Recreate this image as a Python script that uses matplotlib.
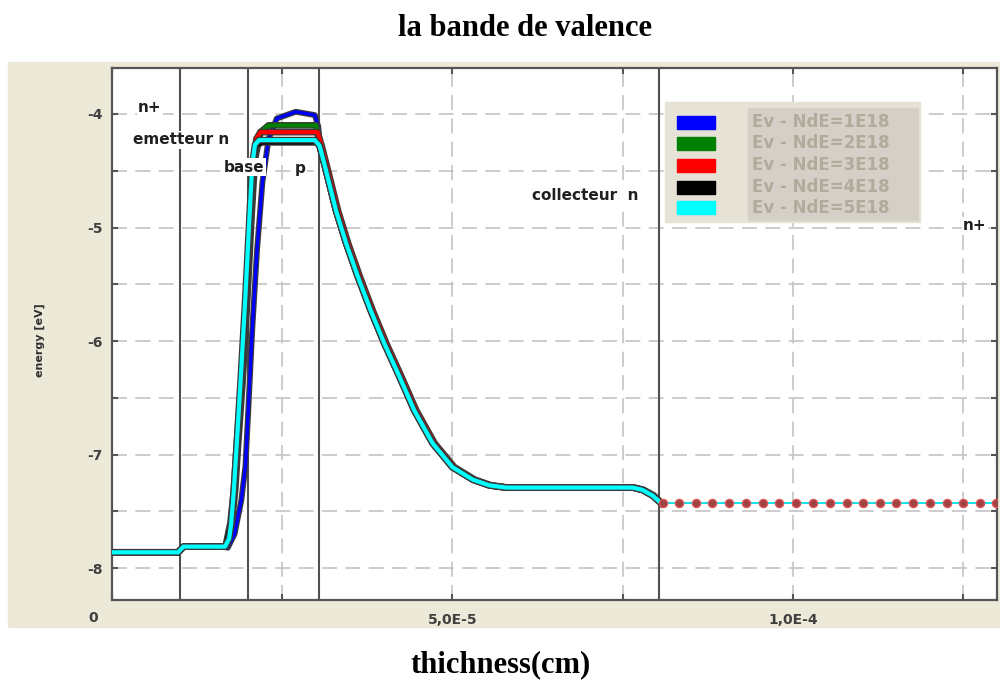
import numpy as np
import matplotlib
matplotlib.use("Agg")
import matplotlib.pyplot as plt
import matplotlib.patheffects as pe
from matplotlib.patches import Rectangle

# x values are read in units of 1e-5 cm, energies in eV
left_x = [0.0, 0.97, 1.05, 1.64]
left_y = [-7.86, -7.86, -7.81, -7.81]

rise_x = {
    "1E18": [1.70, 1.80, 1.90, 1.96, 2.00, 2.06, 2.13, 2.21, 2.30, 2.42, 2.70, 2.98, 3.03, 3.06],
    "2E18": [1.69, 1.76, 1.81, 1.85, 1.92, 1.99, 2.05, 2.10, 2.18, 2.30, 3.00],
    "3E18": [1.68, 1.75, 1.80, 1.84, 1.91, 1.98, 2.04, 2.08, 2.12, 2.18, 3.02],
    "4E18": [1.67, 1.74, 1.79, 1.83, 1.90, 1.97, 2.03, 2.07, 2.12, 2.20, 3.00],
    "5E18": [1.66, 1.72, 1.75, 1.79, 1.83, 1.89, 1.96, 2.02, 2.06, 2.10, 2.16, 2.98],
}
rise_y = {
    "1E18": [-7.82, -7.70, -7.40, -7.10, -6.63, -5.90, -5.20, -4.60, -4.22, -4.04, -3.98, -4.01, -4.11, -4.30],
    "2E18": [-7.80, -7.60, -7.31, -6.93, -6.34, -5.60, -4.90, -4.40, -4.16, -4.10, -4.10],
    "3E18": [-7.80, -7.60, -7.31, -6.93, -6.34, -5.60, -4.90, -4.45, -4.22, -4.16, -4.16],
    "4E18": [-7.80, -7.60, -7.31, -6.93, -6.34, -5.60, -4.90, -4.45, -4.28, -4.25, -4.25],
    "5E18": [-7.81, -7.74, -7.61, -7.31, -6.93, -6.34, -5.60, -4.90, -4.45, -4.27, -4.23, -4.23],
}

desc_x = [3.05, 3.14, 3.29, 3.44, 3.61, 3.80, 4.00, 4.22, 4.44, 4.71, 5.00, 5.30, 5.54,
          5.79, 7.65, 7.79, 7.94, 8.07]
desc_y = [-4.28, -4.49, -4.85, -5.14, -5.43, -5.73, -6.02, -6.31, -6.61, -6.90, -7.11,
          -7.22, -7.27, -7.29, -7.29, -7.31, -7.36, -7.43]
desc_x_red = [3.08, 3.17, 3.32, 3.47, 3.64, 3.83, 4.03, 4.25, 4.47, 4.74, 5.03, 5.33, 5.57,
              5.82, 7.67, 7.81, 7.96, 8.08]

tail_x = [8.09, 8.33, 8.58, 8.82, 9.07, 9.31, 9.56, 9.80, 10.05, 10.30, 10.54,
          10.79, 11.03, 11.28, 11.52, 11.77, 12.01, 12.26, 12.50, 12.75, 12.99]
tail_y = [-7.43] * len(tail_x)

series = ["1E18", "2E18", "3E18", "4E18", "5E18"]
colors = ["#0000ff", "#008000", "#ff0000", "#000000", "#00ffff"]
labels = ["Ev - NdE=" + s for s in series]

region_bounds = [1.0, 2.0, 3.04, 8.03]

W, H = 1000, 682
fig = plt.figure(figsize=(10, 6.82), dpi=100)


def fx(px):
    return px / W


def fy(py):
    return 1 - py / H


# beige panel behind the plot
fig.add_artist(Rectangle((fx(8), fy(627)), fx(992), (627 - 62) / H,
                         transform=fig.transFigure, color="#ece9d8", zorder=-5))

ax = fig.add_axes([fx(112), fy(600), fx(997 - 112), (600 - 68) / H])
ax.set_facecolor("white")

for b in region_bounds:
    ax.axvline(b * 1e-5, color="#505050", lw=1.5, zorder=2)

for s, c in zip(series, colors):
    x = left_x + rise_x[s] + (desc_x_red if s == "3E18" else desc_x)
    y = left_y + rise_y[s] + desc_y
    lw = 2.4 if s == "1E18" else 3.0
    ax.plot(np.array(x) * 1e-5, y, color=c, lw=lw, zorder=3,
            solid_joinstyle="round",
            path_effects=[pe.Stroke(linewidth=lw + 1.8, foreground="#3a3a3a"), pe.Normal()])

ax.plot(np.array(tail_x) * 1e-5, tail_y, color="#00e0e0", lw=1.3, zorder=3)
ax.plot(np.array(tail_x) * 1e-5, tail_y, ls="none", marker="o", ms=5.8,
        mfc="#9c4444", mec="#e05050", mew=1.0, zorder=4)

ax.set_xlim(0, 1.3e-4)
ax.set_ylim(-8.28, -3.595)

ax.set_xticks([0, 5e-5, 1e-4], labels=["", "5,0E-5", "1,0E-4"])
ax.set_xticks([2.5e-5, 7.5e-5, 1.25e-4], minor=True)
ax.set_yticks([-8, -7, -6, -5, -4], labels=["-8", "-7", "-6", "-5", "-4"])
ax.set_yticks([-8.0, -7.5, -6.5, -5.5, -4.5], minor=True)
ax.grid(which="both", color="#c4c4c4", lw=1.2, linestyle=(0, (9, 5)), zorder=1)
ax.set_axisbelow(True)
ax.tick_params(which="both", direction="in", length=4, width=1.5, color="#555555",
               top=True, right=True)
ax.tick_params(axis="x", pad=9, labelsize=10, labelcolor="#404040")
ax.tick_params(axis="y", pad=7, labelsize=10, labelcolor="#404040")
for lab in ax.get_xticklabels() + ax.get_yticklabels():
    lab.set_fontweight("bold")
for sp in ax.spines.values():
    sp.set_color("#555555")
    sp.set_linewidth(1.6)

fig.text(fx(93), fy(618), "0", ha="center", va="center", fontsize=10,
         fontweight="bold", color="#404040")

# region labels, written over the plot on a white ground
notes = [("n+", 150, 108), ("emetteur n", 181, 140), ("base", 244, 167),
         ("p", 300, 168), ("collecteur  n", 585, 196), ("n+", 975, 226)]
for t, px, py in notes:
    fig.text(fx(px), fy(py), t, ha="center", va="center", fontsize=11,
             fontweight="bold", color="#202020", zorder=6,
             bbox=dict(boxstyle="square,pad=0.1", fc="white", ec="none"))

# legend drawn as in the original software
fig.add_artist(Rectangle((fx(665), fy(222)), fx(920 - 665), (222 - 102) / H,
                         transform=fig.transFigure, color="#e6e2d6", zorder=5))
fig.add_artist(Rectangle((fx(748), fy(220)), fx(918 - 748), (220 - 108) / H,
                         transform=fig.transFigure, color="#d4d0c8", zorder=5))
rows = [122, 143, 165, 187, 208]
for c, lab, py in zip(colors, labels, rows):
    fig.add_artist(Rectangle((fx(677), fy(py + 6.5)), fx(38), 13 / H,
                             transform=fig.transFigure, color=c, zorder=6))
    fig.text(fx(752), fy(py), lab, ha="left", va="center", fontsize=12,
             fontweight="bold", color="#b2aa9a", zorder=7)

fig.text(fx(40), fy(340), "energy [eV]", rotation=90, ha="center", va="center",
         fontsize=8, fontweight="bold", color="#303030")
fig.text(fx(525), fy(28), "la bande de valence", ha="center", va="center",
         fontsize=22, fontweight="bold", family="Liberation Serif")
fig.text(fx(501), fy(665), "thichness(cm)", ha="center", va="center",
         fontsize=22, fontweight="bold", family="Liberation Serif")

fig.savefig("out.png", dpi=100)
